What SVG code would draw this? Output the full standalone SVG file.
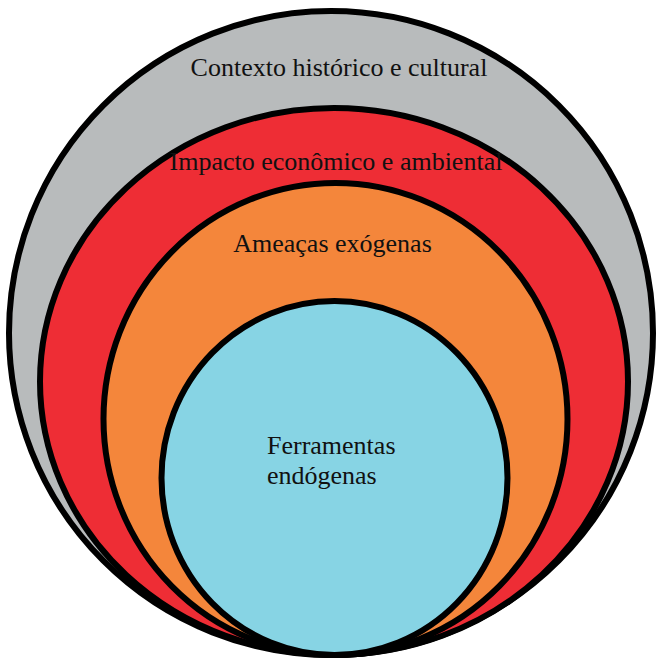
<svg xmlns="http://www.w3.org/2000/svg" width="656" height="660" viewBox="0 0 656 660">
<style>
.ring{stroke:#000;stroke-width:6}
.lbl{font-family:"Liberation Serif","Times New Roman",serif;font-size:26px;fill:#111}
.mid{text-anchor:middle}
</style>
<rect width="656" height="660" fill="#fff"/>
<g id="contexto">
<ellipse class="ring" cx="331" cy="333" rx="322" ry="322" fill="#b8bbbc"/>
<text class="lbl mid" x="339" y="76">Contexto histórico e cultural</text>
</g>
<g id="impacto">
<ellipse class="ring" cx="334" cy="381.5" rx="294" ry="273.5" fill="#ee2d35"/>
<text class="lbl mid" x="336" y="170" fill="#1a0505">Impacto econômico e ambiental</text>
</g>
<g id="ameacas">
<ellipse class="ring" cx="335.5" cy="419" rx="232" ry="236" fill="#f4863b"/>
<text class="lbl mid" x="332.5" y="252">Ameaças exógenas</text>
</g>
<g id="ferramentas">
<ellipse class="ring" cx="334.5" cy="478" rx="173" ry="177" fill="#87d4e4"/>
<text class="lbl" x="267" y="454">Ferramentas</text>
<text class="lbl" x="267" y="484">endógenas</text>
</g>
<g id="connectors"/>
</svg>
